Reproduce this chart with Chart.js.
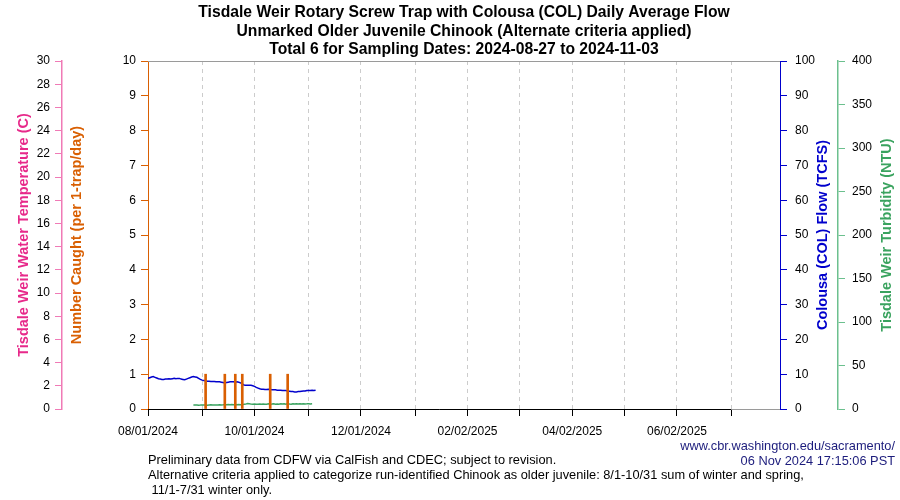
<!DOCTYPE html>
<html>
<head>
<meta charset="utf-8">
<title>Tisdale Weir Rotary Screw Trap - Older Juvenile Chinook</title>
<script src="https://cdn.jsdelivr.net/npm/chart.js@4.4.1/dist/chart.umd.min.js"></script>
<style>
  html, body { margin: 0; padding: 0; background: #fff; }
  #wrap { width: 900px; height: 500px; }
</style>
</head>
<body>
<div id="wrap"><canvas id="chart" width="900" height="500"></canvas></div>
<script>
// x axis runs in days counted from this date
const axisStart = '2024-08-01';
const axisEnd = '2025-07-29';

// Colousa (COL) daily average flow, TCFS, one value per day from flowStart
const flowStart = '2024-08-01';
const flowValues = [
  8.8, 9.0, 9.2, 9.3, 9.1, 8.9, 8.7, 8.6, 8.5, 8.5,
  8.6, 8.6, 8.7, 8.6, 8.7, 8.8, 8.7, 8.8, 8.8, 8.6,
  8.5, 8.4, 8.6, 8.8, 9.0, 9.2, 9.3, 9.2, 9.1, 8.8,
  8.5, 8.3, 8.2, 8.1, 8.0, 8.0, 7.9, 7.9, 7.9, 7.8,
  7.8, 7.8, 7.7, 7.6, 7.5, 7.6, 7.7, 7.8, 7.8, 7.8,
  7.7, 7.8, 7.7, 7.5, 7.2, 6.9, 6.8, 6.8, 6.8, 6.8,
  6.7, 6.5, 6.2, 6.0, 5.8, 5.7, 5.7, 5.6, 5.6, 5.7,
  5.6, 5.5, 5.5, 5.5, 5.4, 5.4, 5.4, 5.3, 5.3, 5.3,
  5.2, 5.1, 5.0, 5.0, 4.9, 4.9, 5.0, 5.0, 5.1, 5.2,
  5.2, 5.3, 5.3, 5.3, 5.4, 5.3, 5.4
];

// Tisdale Weir turbidity, NTU, one value per day from turbStart
const turbStart = '2024-08-27';
const turbValues = [
  4.6, 4.5, 4.6, 4.4, 4.5, 4.7, 4.5, 4.6, 4.4, 4.6,
  4.8, 4.6, 4.5, 4.7, 4.6, 4.9, 4.7, 4.8, 5.0, 4.8,
  5.1, 4.9, 5.2, 5.0, 5.1, 4.9, 5.2, 5.0, 5.3, 5.4,
  5.6, 6.4, 6.1, 5.6, 5.4, 5.6, 5.4, 5.5, 5.7, 5.4,
  5.8, 5.6, 5.5, 5.9, 5.6, 5.7, 6.0, 5.6, 5.8, 5.5,
  6.1, 5.7, 5.9, 5.6, 6.2, 5.8, 5.6, 6.0, 5.7, 5.9,
  5.8, 6.1, 5.7, 6.0, 5.8, 5.9, 6.1, 5.8, 6.0
];

// water temperature (no values shown on the plot)
const tempValues = [];

// number caught per day
const catchDates = ['2024-09-03', '2024-09-14', '2024-09-20', '2024-09-24', '2024-10-10', '2024-10-20'];
const catchCounts = [1, 1, 1, 1, 1, 1];

// x ticks (day offsets) and their labels
const tickDays = [0, 31, 61, 92, 122, 153, 183, 213, 243, 273, 303, 334];
const tickLabels = ['08/01/2024', '', '10/01/2024', '', '12/01/2024', '', '02/02/2025', '', '04/02/2025', '', '06/02/2025', ''];

const titleLines = [
  'Tisdale Weir Rotary Screw Trap with Colousa (COL) Daily Average Flow',
  'Unmarked Older Juvenile Chinook (Alternate criteria applied)',
  'Total 6 for Sampling Dates: 2024-08-27 to 2024-11-03'
];

const ORANGE = '#d95f02';
const PINK = '#e7298a';
const PINK_AXIS = '#f07ab6';
const BLUE = '#0000cc';
const GREEN = '#3aa35f';
const GREEN_AXIS = '#6cc08e';
const NAVY = '#1c1c7c';

function dayOf(dateStr) {
  return (Date.parse(dateStr) - Date.parse(axisStart)) / 86400000;
}

const flowData = flowValues.map((v, i) => ({ x: dayOf(flowStart) + i, y: v }));
const turbData = turbValues.map((v, i) => ({ x: dayOf(turbStart) + i, y: v }));
const catchData = catchDates.map((d, i) => ({ x: dayOf(d), y: catchCounts[i] }));

function vText(ctx, str, x, y, color) {
  ctx.save();
  ctx.translate(x, y);
  ctx.rotate(-Math.PI / 2);
  ctx.fillStyle = color;
  ctx.textAlign = 'center';
  ctx.textBaseline = 'middle';
  ctx.fillText(str, 0, 0);
  ctx.restore();
}

// box, bottom axis line and all the loose text
const decorPlugin = {
  id: 'decor',
  beforeDatasetsDraw(chart) {
    const { ctx, chartArea: a, scales } = chart;
    ctx.save();
    ctx.lineWidth = 1;
    ctx.strokeStyle = '#9a9a9a';
    ctx.beginPath();
    ctx.moveTo(a.left, a.top + 0.5);
    ctx.lineTo(a.right, a.top + 0.5);
    ctx.moveTo(a.left, a.bottom + 0.5);
    ctx.lineTo(a.right, a.bottom + 0.5);
    ctx.stroke();
    const x0 = scales.x.getPixelForValue(tickDays[0]);
    const x1 = scales.x.getPixelForValue(tickDays[tickDays.length - 1]);
    ctx.strokeStyle = '#000';
    ctx.beginPath();
    ctx.moveTo(x0, a.bottom + 0.5);
    ctx.lineTo(x1, a.bottom + 0.5);
    ctx.stroke();
    ctx.restore();
  },
  afterDraw(chart) {
    const { ctx, chartArea: a, scales } = chart;
    const midY = (a.top + a.bottom) / 2;
    const midX = (a.left + a.right) / 2;
    ctx.save();

    // main title
    ctx.font = "bold 15.7px 'Liberation Sans', Arial, sans-serif";
    ctx.fillStyle = '#000';
    ctx.textAlign = 'center';
    ctx.textBaseline = 'middle';
    titleLines.forEach((line, i) => ctx.fillText(line, midX, 13 + i * 18.5));

    // axis titles
    ctx.font = "bold 14.5px 'Liberation Sans', Arial, sans-serif";
    vText(ctx, 'Tisdale Weir Water Temperature (C)', scales.temp.left + 24, midY, PINK);
    vText(ctx, 'Number Caught (per 1-trap/day)', scales.y.left + 15, midY, ORANGE);
    vText(ctx, 'Colousa (COL) Flow (TCFS)', scales.flow.left + 43, midY, BLUE);
    vText(ctx, 'Tisdale Weir Turbidity (NTU)', scales.turb.left + 49, midY, GREEN);

    // notes
    ctx.font = "12.8px 'Liberation Sans', Arial, sans-serif";
    ctx.textAlign = 'right';
    ctx.fillStyle = NAVY;
    ctx.fillText('www.cbr.washington.edu/sacramento/', 895, 446);
    ctx.fillText('06 Nov 2024 17:15:06 PST', 895, 461);
    ctx.textAlign = 'left';
    ctx.fillStyle = '#000';
    ctx.fillText('Preliminary data from CDFW via CalFish and CDEC; subject to revision.', 148, 460);
    ctx.fillText('Alternative criteria applied to categorize run-identified Chinook as older juvenile: 8/1-10/31 sum of winter and spring,', 148, 475);
    ctx.fillText(' 11/1-7/31 winter only.', 148, 490);
    ctx.restore();
  }
};

Chart.defaults.font.family = "'Liberation Sans', Arial, sans-serif";
Chart.defaults.font.size = 12;
Chart.defaults.color = '#000';

const ctx = document.getElementById('chart').getContext('2d');
const chart = new Chart(ctx, {
  type: 'line',
  data: {
    datasets: [
      {
        type: 'bar',
        label: 'Number Caught',
        data: catchData,
        yAxisID: 'y',
        backgroundColor: ORANGE,
        borderWidth: 0,
        barThickness: 2,
        order: 0
      },
      {
        label: 'Flow',
        data: flowData,
        yAxisID: 'flow',
        borderColor: BLUE,
        borderWidth: 1.5,
        pointRadius: 0,
        tension: 0,
        order: 1
      },
      {
        label: 'Turbidity',
        data: turbData,
        yAxisID: 'turb',
        borderColor: GREEN,
        borderWidth: 1.5,
        pointRadius: 0,
        tension: 0,
        order: 2
      },
      {
        label: 'Temperature',
        data: tempValues,
        yAxisID: 'temp',
        borderColor: PINK,
        borderWidth: 1.5,
        pointRadius: 0,
        order: 3
      }
    ]
  },
  options: {
    responsive: false,
    animation: false,
    devicePixelRatio: 1,
    layout: { padding: { top: 61, bottom: 51, left: 0, right: 0 } },
    plugins: {
      legend: { display: false },
      tooltip: { enabled: false }
    },
    scales: {
      x: {
        type: 'linear',
        min: 0,
        max: dayOf(axisEnd),
        offset: false,
        afterBuildTicks: s => { s.ticks = tickDays.map(v => ({ value: v })); },
        ticks: {
          autoSkip: false,
          maxRotation: 0,
          padding: 8,
          callback: (v, i) => tickLabels[i]
        },
        grid: {
          offset: false,
          color: c => (c.index === 0 ? 'rgba(0,0,0,0)' : '#cccccc'),
          tickColor: '#000',
          tickLength: 7,
          lineWidth: 1
        },
        border: { display: false, dash: [4, 4] },
        afterFit: s => { s.height = 40; }
      },
      y: {
        position: 'left',
        weight: 0,
        min: 0,
        max: 10,
        ticks: { stepSize: 1, padding: 5 },
        grid: { drawOnChartArea: false, color: ORANGE, tickLength: 7 },
        border: { color: ORANGE, width: 1 },
        afterFit: s => { s.width = 86; }
      },
      temp: {
        position: 'left',
        weight: 1,
        min: 0,
        max: 30,
        ticks: { stepSize: 2, padding: 5 },
        grid: { drawOnChartArea: false, color: PINK_AXIS, tickLength: 7 },
        border: { color: PINK_AXIS, width: 1.5 },
        afterFit: s => { s.width = 62; }
      },
      flow: {
        position: 'right',
        weight: 0,
        min: 0,
        max: 100,
        ticks: { stepSize: 10, padding: 8 },
        grid: { drawOnChartArea: false, color: BLUE, tickLength: 7 },
        border: { color: BLUE, width: 1 },
        afterFit: s => { s.width = 58; }
      },
      turb: {
        position: 'right',
        weight: 1,
        min: 0,
        max: 400,
        ticks: { stepSize: 50, padding: 7 },
        grid: { drawOnChartArea: false, color: GREEN_AXIS, tickLength: 7 },
        border: { color: GREEN_AXIS, width: 1.5 },
        afterFit: s => { s.width = 62; }
      }
    }
  },
  plugins: [decorPlugin]
});
</script>
</body>
</html>
